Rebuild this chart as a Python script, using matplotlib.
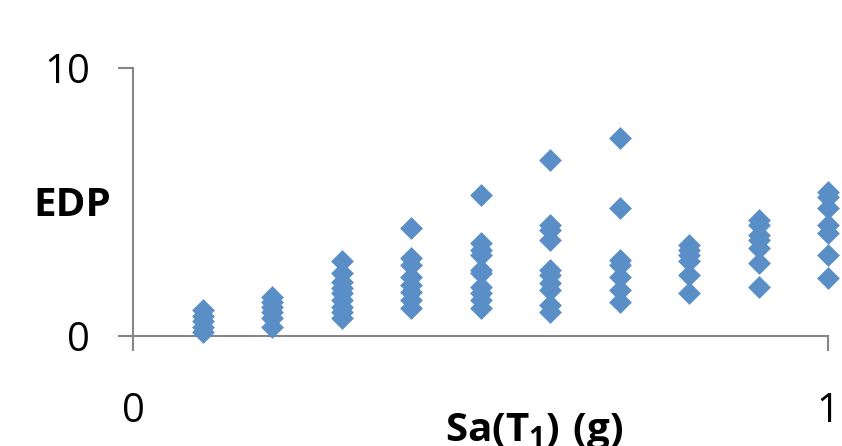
import matplotlib
matplotlib.use("Agg")
import matplotlib.pyplot as plt

plt.rcParams['font.family'] = ['Open Sans', 'DejaVu Sans']
plt.rcParams['mathtext.fontset'] = 'custom'
plt.rcParams['mathtext.rm'] = 'Open Sans'
plt.rcParams['mathtext.bf'] = 'Open Sans:bold'

# Sa(T1) levels and EDP values per level
sa_levels = [0.1, 0.2, 0.3, 0.4, 0.5, 0.6, 0.7, 0.8, 0.9, 1.0]
edp_01 = [0.97, 0.75, 0.55, 0.35, 0.16]
edp_02 = [1.47, 1.28, 1.09, 0.91, 0.66, 0.35]
edp_03 = [2.81, 2.34, 2.03, 1.78, 1.59, 1.34, 1.09, 0.91, 0.66]
edp_04 = [4.02, 2.90, 2.65, 2.22, 1.91, 1.65, 1.34, 1.03]
edp_05 = [5.27, 3.46, 3.21, 3.03, 2.47, 2.34, 1.84, 1.59, 1.34, 1.03]
edp_06 = [6.57, 4.15, 3.96, 3.59, 2.47, 2.28, 1.97, 1.72, 1.16, 0.91]
edp_07 = [7.38, 4.77, 2.84, 2.65, 2.22, 1.72, 1.28]
edp_08 = [3.40, 3.21, 3.03, 2.78, 2.28, 1.59]
edp_09 = [4.33, 4.15, 3.77, 3.59, 3.27, 2.72, 1.84]
edp_10 = [5.39, 5.20, 4.77, 4.15, 3.84, 3.03, 2.16]
edp_columns = [edp_01, edp_02, edp_03, edp_04, edp_05,
               edp_06, edp_07, edp_08, edp_09, edp_10]

x_ticks = [0, 1]
x_tick_labels = ['0', '1']
y_ticks = [0, 10]
y_tick_labels = ['0', '10']

xs, ys = [], []
for sa, col in zip(sa_levels, edp_columns):
    xs.extend([sa] * len(col))
    ys.extend(col)

fig = plt.figure(figsize=(8.42, 4.46), dpi=100)
ax = fig.add_axes([133/842, 1-336/446, (828-133)/842, (336-68)/446])
ax.scatter(xs, ys, marker='D', s=135, color='#5A8EC7', linewidths=0, zorder=3,
           clip_on=False)

ax.set_xlim(0, 1)
ax.set_ylim(0, 10)
for s in ['top', 'right']:
    ax.spines[s].set_visible(False)
for s in ['left', 'bottom']:
    ax.spines[s].set_color('#868686')
    ax.spines[s].set_linewidth(1.5)

ax.set_xticks(x_ticks)
ax.set_xticklabels(x_tick_labels)
ax.set_yticks(y_ticks)
ax.set_yticklabels(y_tick_labels)
ax.tick_params(axis='both', colors='#868686', labelcolor='black', labelsize=29,
               length=11, width=1.5, direction='out')
ax.tick_params(axis='y', pad=20)
ax.tick_params(axis='x', pad=29)

fig.text(72/842, 1-206/446, 'EDP', fontsize=29, fontweight='bold',
         ha='center', va='center')
fig.text(534/842, 1-431/446, r'$\mathbf{Sa(T_1)\ (g)}$', fontsize=29,
         ha='center', va='center')

fig.savefig('out.png', dpi=100)
